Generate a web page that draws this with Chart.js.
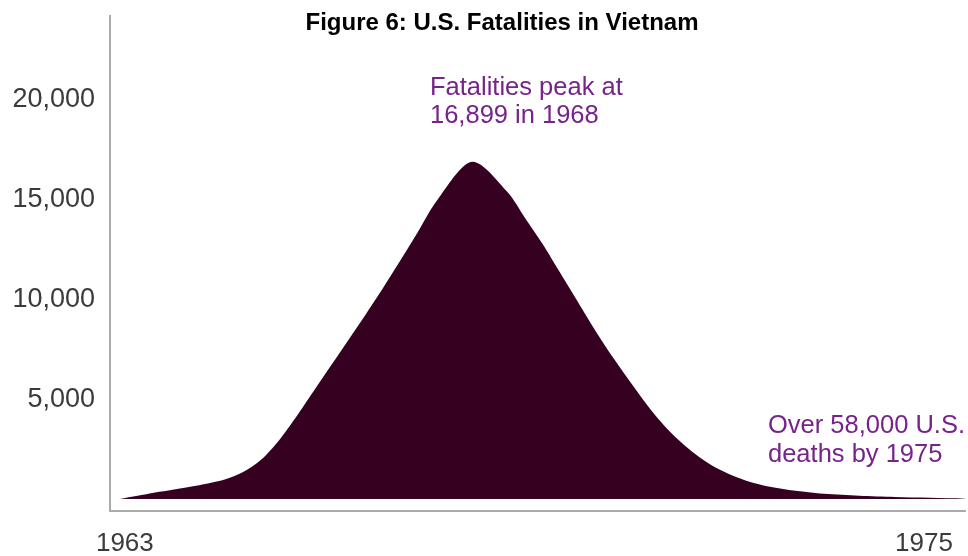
<!DOCTYPE html>
<html>
<head>
<meta charset="utf-8">
<title>U.S. Fatalities in Vietnam</title>
<script src="https://cdn.jsdelivr.net/npm/chart.js@4"></script>
<style>
  body { margin: 0; background: #fff; }
  #wrap { width: 968px; height: 556px; position: relative; }
</style>
</head>
<body>
<div id="wrap"><canvas id="fatalChart"></canvas></div>
<script>
// yearly fatalities curve, sampled every quarter year
const years = [
  1963, 1963.25, 1963.5, 1963.75, 1964, 1964.25, 1964.5, 1964.75,
  1965, 1965.25, 1965.5, 1965.75, 1966, 1966.25, 1966.5, 1966.75,
  1967, 1967.25, 1967.5, 1968, 1968.5, 1968.75,
  1969, 1969.25, 1969.5, 1969.75, 1970, 1970.25, 1970.5, 1970.75,
  1971, 1971.25, 1971.5, 1971.75, 1972, 1972.25, 1972.5, 1972.75,
  1973, 1973.5, 1974, 1974.5, 1975
];
const fatalities = [
  0, 160, 330, 470, 620, 780, 990, 1350,
  1950, 2900, 4100, 5400, 6700, 8000, 9300, 10650,
  12050, 13500, 14950, 16899, 15400, 14100,
  12800, 11350, 9900, 8450, 7100, 5850, 4650, 3600,
  2750, 2050, 1500, 1100, 800, 600, 450, 350,
  260, 160, 100, 60, 20
];
const yTicks = [5000, 10000, 15000, 20000];
const yearLabels = ['1963', '1975'];

const chartTitle = 'Figure 6: U.S. Fatalities in Vietnam';
const peakNote = ['Fatalities peak at', '16,899 in 1968'];
const totalNote = ['Over 58,000 U.S.', 'deaths by 1975'];

const purple = '#77238a';
const axisGray = '#ababab';

// title, notes and the two year labels are drawn on top of the chart
const textLayer = {
  id: 'textLayer',
  afterDraw(chart) {
    const ctx = chart.ctx;
    const x = chart.scales.x;
    ctx.save();
    ctx.textBaseline = 'alphabetic';

    ctx.fillStyle = '#000';
    ctx.font = 'bold 24px "Liberation Sans", Arial, sans-serif';
    ctx.textAlign = 'center';
    ctx.fillText(chartTitle, 502, 30);

    ctx.fillStyle = purple;
    ctx.font = '25.5px "Liberation Sans", Arial, sans-serif';
    ctx.textAlign = 'left';
    ctx.fillText(peakNote[0], 430, 95);
    ctx.fillText(peakNote[1], 430, 123);
    ctx.fillText(totalNote[0], 768, 433);
    ctx.fillText(totalNote[1], 768, 462);

    ctx.fillStyle = '#3b3b3b';
    ctx.font = '26px "Liberation Sans", Arial, sans-serif';
    ctx.textAlign = 'center';
    ctx.fillText(yearLabels[0], x.getPixelForValue(1963) + 5, 551);
    ctx.fillText(yearLabels[1], x.getPixelForValue(1975) - 41, 551);
    ctx.restore();
  }
};

const ctx = document.getElementById('fatalChart').getContext('2d');

new Chart(ctx, {
  type: 'line',
  data: {
    datasets: [{
      data: years.map((yr, i) => ({ x: yr, y: fatalities[i] })),
      fill: 'origin',
      backgroundColor: '#360021',
      borderColor: '#360021',
      borderWidth: 0,
      pointRadius: 0,
      tension: 0.3
    }]
  },
  options: {
    responsive: true,
    maintainAspectRatio: false,
    animation: false,
    layout: { padding: { top: 16, bottom: 45, left: 0, right: 3 } },
    plugins: {
      legend: { display: false },
      tooltip: { enabled: false }
    },
    scales: {
      x: {
        type: 'linear',
        min: 1962.86,
        max: 1975,
        grid: { display: false, drawTicks: false },
        border: { display: true, color: axisGray, width: 2 },
        ticks: { display: false },
        afterFit(scale) {
          scale.height = 0;
          scale.paddingLeft = 0;
          scale.paddingRight = 0;
        }
      },
      y: {
        min: -600,
        max: 24210,
        grid: { display: false, drawTicks: false },
        border: { display: true, color: axisGray, width: 2 },
        afterBuildTicks(scale) {
          scale.ticks = yTicks.map(v => ({ value: v }));
        },
        afterFit(scale) {
          scale.width = 110;
          scale.paddingTop = 0;
          scale.paddingBottom = 0;
        },
        ticks: {
          padding: 15,
          color: '#3b3b3b',
          font: { family: '"Liberation Sans", Arial, sans-serif', size: 27 },
          callback: v => v.toLocaleString('en-US')
        }
      }
    }
  },
  plugins: [textLayer]
});
</script>
</body>
</html>
